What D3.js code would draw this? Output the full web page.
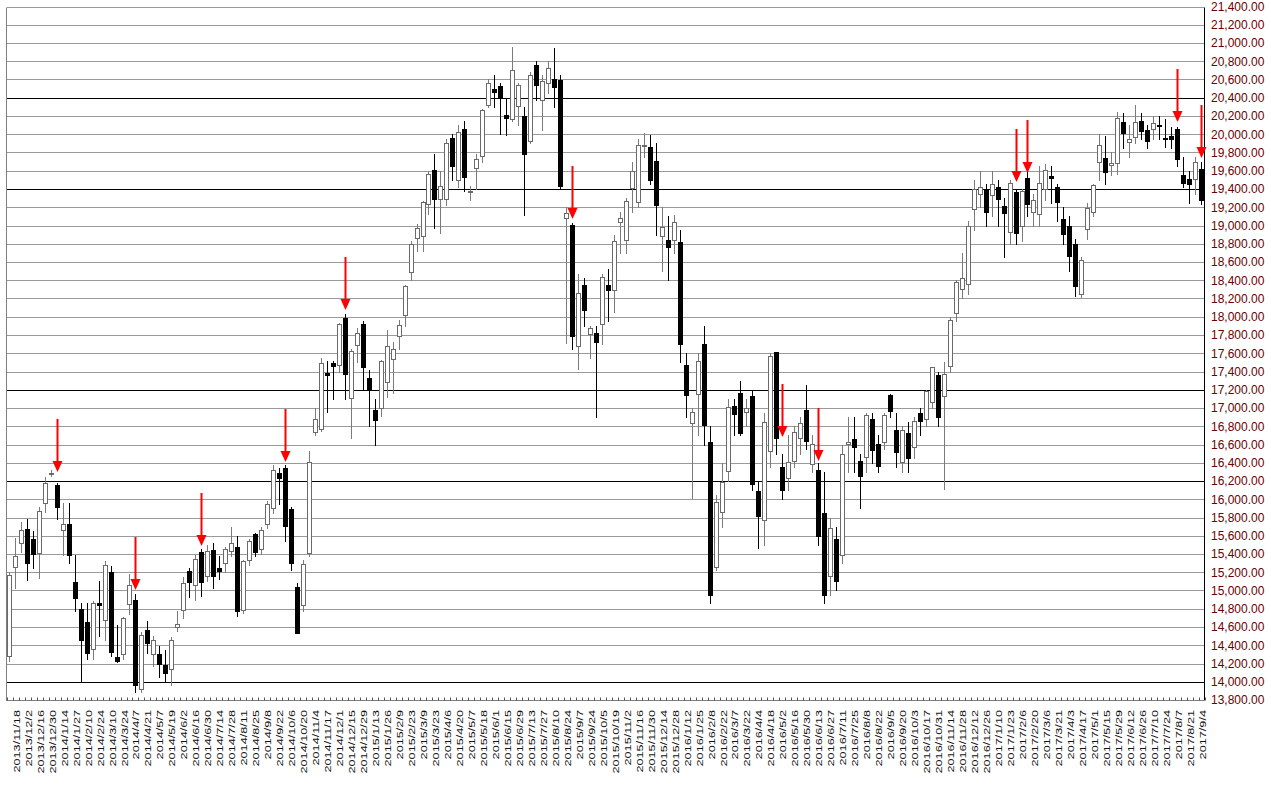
<!DOCTYPE html>
<html><head><meta charset="utf-8">
<script src="https://cdnjs.cloudflare.com/ajax/libs/d3/7.8.5/d3.min.js"></script>
<style>
body{margin:0;background:#fff;}
svg{display:block;font-family:"Liberation Sans",Arial,sans-serif;}
</style>
</head><body><svg id="chart" width="1271" height="785"></svg>
<script>
const dates = [
"2013/11/11","2013/11/18","2013/11/25","2013/12/2","2013/12/9","2013/12/16","2013/12/24","2013/12/30","2014/1/6","2014/1/14",
"2014/1/20","2014/1/27","2014/2/3","2014/2/10","2014/2/17","2014/2/24","2014/3/3","2014/3/10","2014/3/17","2014/3/24",
"2014/3/31","2014/4/7","2014/4/14","2014/4/21","2014/4/28","2014/5/7","2014/5/12","2014/5/19","2014/5/26","2014/6/2",
"2014/6/9","2014/6/16","2014/6/23","2014/6/30","2014/7/7","2014/7/14","2014/7/22","2014/7/28","2014/8/4","2014/8/11",
"2014/8/18","2014/8/25","2014/9/1","2014/9/8","2014/9/16","2014/9/22","2014/9/29","2014/10/6","2014/10/14","2014/10/20",
"2014/10/27","2014/11/4","2014/11/10","2014/11/17","2014/11/25","2014/12/1","2014/12/8","2014/12/15","2014/12/22","2014/12/29",
"2015/1/5","2015/1/13","2015/1/19","2015/1/26","2015/2/2","2015/2/9","2015/2/16","2015/2/23","2015/3/2","2015/3/9",
"2015/3/16","2015/3/23","2015/3/30","2015/4/6","2015/4/13","2015/4/20","2015/4/27","2015/5/7","2015/5/11","2015/5/18",
"2015/5/25","2015/6/1","2015/6/8","2015/6/15","2015/6/22","2015/6/29","2015/7/6","2015/7/13","2015/7/21","2015/7/27",
"2015/8/3","2015/8/10","2015/8/17","2015/8/24","2015/8/31","2015/9/7","2015/9/14","2015/9/24","2015/9/28","2015/10/5",
"2015/10/13","2015/10/19","2015/10/26","2015/11/2","2015/11/9","2015/11/16","2015/11/24","2015/11/30","2015/12/7","2015/12/14",
"2015/12/21","2015/12/28","2016/1/4","2016/1/12","2016/1/18","2016/1/25","2016/2/1","2016/2/8","2016/2/15","2016/2/22",
"2016/2/29","2016/3/7","2016/3/14","2016/3/22","2016/3/28","2016/4/4","2016/4/11","2016/4/18","2016/4/25","2016/5/2",
"2016/5/9","2016/5/16","2016/5/23","2016/5/30","2016/6/6","2016/6/13","2016/6/20","2016/6/27","2016/7/4","2016/7/11",
"2016/7/19","2016/7/25","2016/8/1","2016/8/8","2016/8/15","2016/8/22","2016/8/29","2016/9/5","2016/9/12","2016/9/20",
"2016/9/26","2016/10/3","2016/10/11","2016/10/17","2016/10/24","2016/10/31","2016/11/7","2016/11/14","2016/11/21","2016/11/28",
"2016/12/5","2016/12/12","2016/12/19","2016/12/26","2017/1/4","2017/1/10","2017/1/16","2017/1/23","2017/1/30","2017/2/6",
"2017/2/13","2017/2/20","2017/2/27","2017/3/6","2017/3/13","2017/3/21","2017/3/27","2017/4/3","2017/4/10","2017/4/17",
"2017/4/24","2017/5/1","2017/5/8","2017/5/15","2017/5/22","2017/5/29","2017/6/5","2017/6/12","2017/6/19","2017/6/26",
"2017/7/3","2017/7/10","2017/7/18","2017/7/24","2017/7/31","2017/8/7","2017/8/14","2017/8/21","2017/8/28","2017/9/4"];

const openV = [
14282,15261,15517,15670,15561,15415,15963,16282,16152,15663,
15729,15097,14801,14658,14355,14860,14677,15206,14268,14308,
14848,14892,13920,14567,14300,14308,14180,14143,14604,14786,
15214,15057,15426,15159,15440,15250,15305,15433,15480,14790,
15330,15615,15458,15724,15900,16290,16345,15889,15041,14836,
15414,16740,16773,17380,17490,17470,17990,17112,17686,17916,
17332,16977,17004,17289,17540,17789,18019,18494,18859,18890,
19239,19605,19290,19287,19960,19495,20061,19370,19630,19762,
20324,20500,20530,20206,20170,20309,20199,19921,20754,20370,
20560,20610,20590,19080,19008,17678,18344,17810,17821,17923,
18344,18289,19037,18837,19407,19261,19870,19857,19710,18881,
18845,18845,18823,17471,16836,17153,17701,16624,15254,15857,
16313,17026,17165,16960,17130,16090,15768,16528,17613,16356,
16236,16418,16674,16977,16382,16320,15845,15158,15560,15384,
16610,16663,16418,16466,16875,16606,16631,17142,16759,16405,
16723,16569,16942,16880,17062,17362,17135,17464,18041,18304,
18359,19181,19345,19393,19334,19418,19210,18932,19371,18990,
19517,19152,19126,19400,19539,19418,19071,18998,18797,18246,
18960,19150,19700,19745,19660,19690,20130,19920,19970,20140,
20050,20063,20100,19960,19980,20055,19552,19510,19508,19617];

const highV = [
15200,15579,15750,15780,15650,15910,16240,16320,16180,15960,
15960,15390,14860,14860,14885,15104,15320,15270,14620,14715,
15177,14960,14550,14666,14500,14390,14350,14490,14780,15150,
15250,15390,15450,15500,15520,15380,15480,15700,15600,15330,
15560,15630,15700,15980,16370,16340,16375,15920,15080,15330,
16533,17000,17550,17520,17520,17935,18030,17650,17880,17950,
17420,17100,17530,17850,17720,17960,18350,18830,19020,19270,
19600,19780,19600,19950,20000,20100,20140,19430,19780,20280,
20600,20650,20560,20400,20952,20560,20300,20680,20800,20650,
20800,20946,20650,19200,19030,18470,18430,17900,17900,18470,
18520,18900,19150,19300,19700,19950,20012,19990,19900,19200,
19100,19110,18950,17600,17000,17600,17900,16800,16050,16400,
17100,17100,17300,17100,17200,16200,16950,17600,17613,16500,
16700,16800,16900,17250,16700,16400,16300,15800,15700,16600,
16900,16900,16500,16950,16950,16700,16950,17150,16950,16800,
16850,16900,17000,17200,17450,17400,17500,18000,18400,18700,
19050,19500,19600,19450,19600,19500,19300,19500,19400,19400,
19600,19350,19650,19670,19650,19450,19200,19100,18850,18650,
19250,19460,19998,19980,19800,20239,20230,20100,20318,20230,
20100,20200,20200,20165,20080,20080,19750,19600,19750,19700];

const lowV = [
14227,15031,15420,15120,15250,15140,15860,16260,15780,15390,
15300,14770,14008,14245,14245,14501,14457,14284,14215,14250,
14739,13890,13885,14319,14170,14050,14000,13965,14560,14700,
14930,14900,14940,15100,15030,15130,15200,15380,14720,14750,
15280,15380,15400,15680,15850,15950,15540,15230,14529,14780,
15380,16700,16750,16960,17100,17400,17100,16672,17500,17200,
16800,16600,16910,17120,17160,17650,17900,18403,18720,18720,
19130,18970,18920,19230,19500,19420,19380,19280,19400,19700,
20300,20300,20000,19990,20150,20097,19115,19900,20380,20050,
20450,20300,19400,17714,17650,17430,17900,17550,16901,17700,
17950,18050,18700,18700,19150,19200,19750,19450,18900,18500,
18400,18700,17500,16900,16017,16700,16600,14865,15220,15700,
16200,16700,16700,16800,16100,15470,15500,16350,16500,16000,
16100,16350,16500,16550,16300,15500,14864,14950,15000,15300,
16300,16300,15900,16300,16400,16300,16550,16900,16350,16300,
16300,16450,16700,16800,17000,16800,16111,17400,17950,18200,
18250,18950,19200,19000,19100,19000,18650,18800,18800,18830,
19100,19000,19000,19280,19250,19050,18800,18500,18224,18220,
18850,19100,19500,19450,19550,19560,19850,19750,19900,19950,
19850,19950,19950,19855,19850,19650,19420,19250,19350,19240];

const closeV = [
15165,15382,15662,15299,15403,15870,16178,16291,15912,15734,
15391,14914,14462,14313,14865,14841,15274,14327,14224,14696,
15063,13960,14516,14429,14458,14199,14096,14462,14632,15077,
15097,15349,15095,15437,15164,15215,15457,15523,14778,15318,
15539,15424,15668,15948,16321,16229,15708,15300,14532,15291,
16413,16880,17490,17357,17460,17920,17371,17621,17818,17450,
17197,16864,17511,17674,17648,17913,18332,18797,18971,19254,
19560,19285,19435,19907,19652,20020,19531,19379,19732,20264,
20563,20460,20407,20174,20706,20539,19779,20650,20544,20585,
20724,20519,19435,19136,17792,18264,18070,17880,17725,18438,
18291,18825,19083,19265,19596,19879,19883,19504,19230,18986,
18769,19033,17697,17147,16958,17518,16819,14952,15967,16188,
17014,16938,16724,17002,16164,15821,16848,17572,16666,16106,
16412,16736,16834,16642,16601,15599,14952,15682,15106,16497,
16627,16569,16254,16919,16545,16360,16925,16965,16519,16754,
16449,16860,16856,17184,17446,16905,17374,17967,18381,18426,
18996,19401,19427,19145,19454,19287,19137,19467,18918,19378,
19234,19283,19469,19604,19521,19262,18909,18664,18335,18620,
19196,19445,19883,19590,19686,20177,20013,19943,20132,20033,
19929,20118,20099,19959,19952,19729,19470,19452,19691,19274];

const yTicks = [13800,14000,14200,14400,14600,14800,15000,15200,15400,15600,15800,
16000,16200,16400,16600,16800,17000,17200,17400,17600,17800,18000,18200,18400,18600,
18800,19000,19200,19400,19600,19800,20000,20200,20400,20600,20800,21000,21200,21400];
const keyLevels = [14000,16200,17200,19400,20400];
const arrowIndex = [8,21,32,46,56,94,129,135,168,170,195,199];
const arrowTip = [16299,15005,15488,16408,18074,19071,16682,16419,19477,19575,20134,19740];

(function draw() {
const svg = d3.select("#chart");
const plotLeft = 6.7, plotRight = 1204.7, plotTop = 6.5, plotBottom = 700;

const x = d3.scaleBand().domain(d3.range(dates.length)).range([plotLeft, plotRight])
  .paddingInner(0.165).paddingOuter(0.0825);
const y = d3.scaleLinear().domain([13800, 21400]).range([plotBottom, plotTop]);
const step = x.step();
const py = v => Math.round(y(v)) + 0.5;

// grid lines
svg.append("g").selectAll("line").data(yTicks).join("line")
  .attr("x1", 7).attr("x2", 1204)
  .attr("y1", d => py(d)).attr("y2", d => py(d))
  .attr("stroke", d => keyLevels.includes(d) ? "#000" : "#9a9a9a")
  .attr("stroke-width", 1);

// frame
svg.append("line").attr("x1", 6.5).attr("x2", 6.5).attr("y1", py(21400)).attr("y2", py(13800))
  .attr("stroke", "#808080");
svg.append("line").attr("x1", 1204.5).attr("x2", 1204.5).attr("y1", py(21400)).attr("y2", py(13800))
  .attr("stroke", "#000");
svg.append("line").attr("x1", 6).attr("x2", 1205).attr("y1", py(13800)).attr("y2", py(13800))
  .attr("stroke", "#808080");

// bottom small ticks at week boundaries
svg.append("g").selectAll("line").data(d3.range(dates.length + 1)).join("line")
  .attr("x1", i => Math.round(plotLeft + i * step) + 0.5)
  .attr("x2", i => Math.round(plotLeft + i * step) + 0.5)
  .attr("y1", py(13800) - 3).attr("y2", py(13800))
  .attr("stroke", "#555");

// candles
const idx = d3.range(dates.length);
const cg = svg.append("g");
const up = i => closeV[i] >= openV[i];
const cx = i => Math.round(x(i)) + 2.5;

cg.selectAll("line.wick").data(idx).join("line").attr("class", "wick")
  .attr("x1", cx).attr("x2", cx)
  .attr("y1", i => Math.round(y(Math.max(highV[i], openV[i], closeV[i]))))
  .attr("y2", i => Math.round(y(Math.min(lowV[i], openV[i], closeV[i]))) + 1)
  .attr("stroke", i => up(i) ? "#7a7a7a" : "#000");

cg.selectAll("rect.body").data(idx).join("rect").attr("class", "body")
  .each(function(i) {
    const t = Math.round(y(Math.max(openV[i], closeV[i])));
    const b = Math.round(y(Math.min(openV[i], closeV[i])));
    const bx = Math.round(x(i));
    const sel = d3.select(this);
    if (up(i)) {
      sel.attr("x", bx + 0.5).attr("y", t + 0.5).attr("width", 4)
         .attr("height", Math.max(b - t, 1))
         .attr("fill", "#fff").attr("stroke", "#6a6a6a");
    } else {
      sel.attr("x", bx).attr("y", t).attr("width", 5)
         .attr("height", Math.max(b - t + 1, 2))
         .attr("fill", "#000");
    }
  });

// red arrows
const ag = svg.append("g");
arrowIndex.forEach((ci, k) => {
  const ax = Math.round(x(ci)) + 2.5;
  const tip = y(arrowTip[k]);
  ag.append("line").attr("x1", ax).attr("x2", ax)
    .attr("y1", tip - 53).attr("y2", tip - 9)
    .attr("stroke", "#ff0000").attr("stroke-width", 2);
  ag.append("path")
    .attr("d", `M${ax - 5},${tip - 11}L${ax + 5},${tip - 11}L${ax},${tip}Z`)
    .attr("fill", "#ff0000");
});

// y axis labels (right)
const yAxis = svg.append("g").attr("transform", "translate(1204,0)")
  .call(d3.axisRight(y).tickValues(yTicks).tickSize(0).tickPadding(7)
    .tickFormat(d3.format(",.2f")));
yAxis.select(".domain").remove();
yAxis.selectAll("text").attr("font-size", 12).attr("fill", "#6b0000")
  .attr("font-family", "Liberation Sans, Arial, sans-serif");

// x axis labels (every other week), rotated
const xAxis = svg.append("g").attr("transform", `translate(0,${plotBottom})`)
  .call(d3.axisBottom(x).tickValues(idx.filter(i => i % 2 === 1)).tickSize(0)
    .tickFormat(i => dates[i]));
xAxis.select(".domain").remove();
xAxis.selectAll("text")
  .attr("font-size", 12).attr("fill", "#111")
  .attr("font-family", "Liberation Sans, Arial, sans-serif")
  .attr("text-anchor", "end")
  .attr("dy", null)
  .attr("transform", "rotate(-90) scale(1.06,0.8)")
  .attr("x", -10 / 1.06).attr("y", 4 / 0.8);
})();
</script>
</body></html>
